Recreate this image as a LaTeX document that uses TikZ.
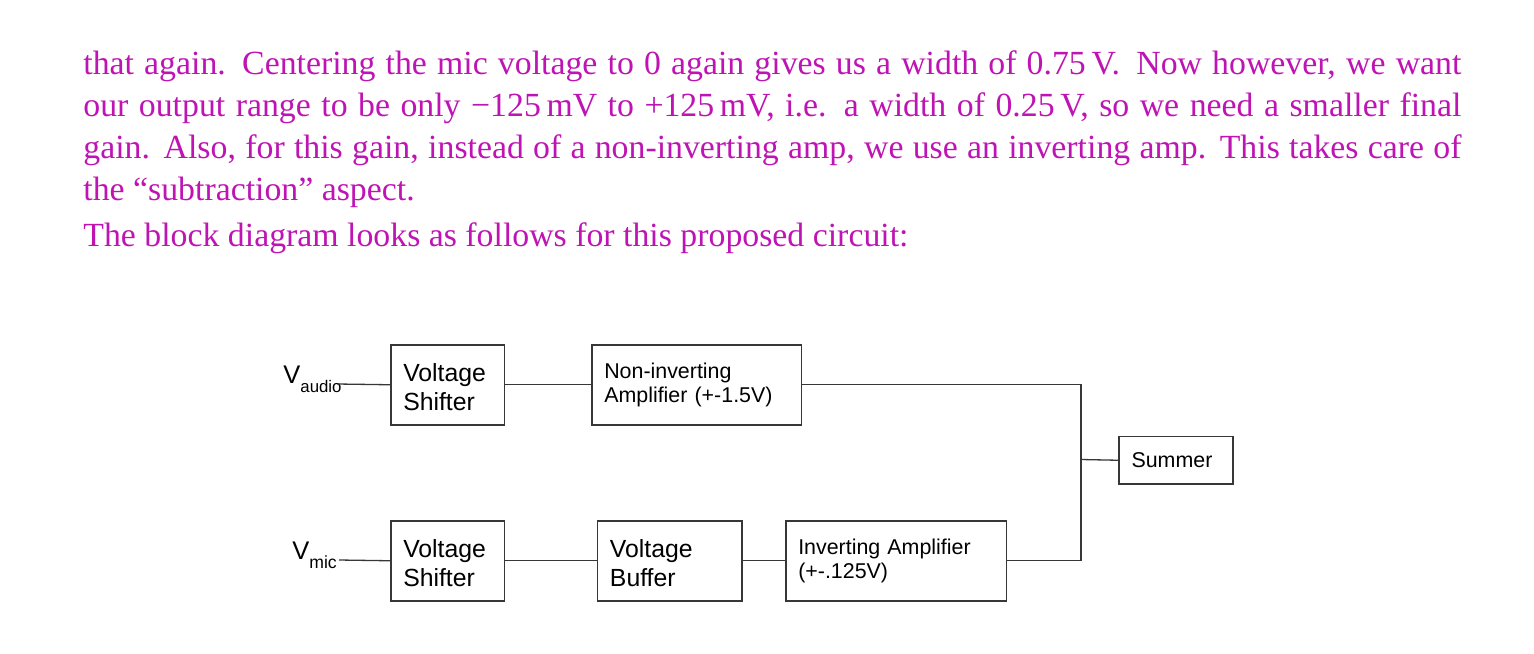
\documentclass[tikz,border=0pt]{standalone}
\usepackage{fontspec}
\setmainfont{Liberation Serif}
\newfontfamily\diagfont{Liberation Sans}
\definecolor{mag}{RGB}{190,20,180}
\definecolor{ln}{RGB}{55,55,55}
\begin{document}
\begin{tikzpicture}[x=0.5pt,y=-0.5pt,
  para/.style={anchor=base west, inner sep=0pt, text=mag, font=\fontsize{16.9}{21}\selectfont},
  blk/.style={draw=ln, line width=0.75pt, anchor=north west, inner xsep=6.25pt, inner ysep=0pt, align=left, text=black},
  bigtxt/.style={font=\diagfont\fontsize{12.4}{14.75}\selectfont, minimum height=40pt},
  smalltxt/.style={font=\diagfont\fontsize{10.7}{11.75}\selectfont, minimum height=40pt},
  wire/.style={draw=ln, line width=0.65pt},
  vlabel/.style={anchor=base west, inner sep=0pt, font=\diagfont, text=black},
]
\useasboundingbox (0,0) rectangle (1534,653);

% text paragraph
\node[para] (p1) at (83,74) {\makebox[689pt][s]{that again. Centering the mic voltage to 0 again gives us a width of 0.75\,V\@. Now however, we want}};
\node[para] (p2) at (83,116) {\makebox[689pt][s]{our output range to be only −125\,mV to +125\,mV, i.e. a width of 0.25\,V, so we need a smaller final}};
\node[para] (p3) at (83,158) {\makebox[689pt][s]{gain. Also, for this gain, instead of a non-inverting amp, we use an inverting amp. This takes care of}};
\node[para] (p4) at (83,200) {the “subtraction” aspect.};
\node[para] (p5) at (83,246) {The block diagram looks as follows for this proposed circuit:};

% blocks
\node[blk, bigtxt, text width=44.35pt] (vsA) at (390,344) {\rule{0pt}{11.5pt}Voltage\\Shifter};
\node[blk, smalltxt, text width=92.35pt] (ni) at (591,344) {Non-inverting\\Amplifier (+-1.5V)};
\node[blk, bigtxt, text width=44.35pt] (vsB) at (390,520) {\rule{0pt}{11.5pt}Voltage\\Shifter};
\node[blk, bigtxt, text width=59.65pt] (vb) at (596.7,520) {\rule{0pt}{11.5pt}Voltage\\Buffer};
\node[blk, smalltxt, text width=97.85pt] (inv) at (785,520) {Inverting Amplifier\\(+-.125V)};
\node[blk, font=\diagfont\fontsize{10.7}{11.75}\selectfont, minimum height=23.8pt, text width=44.5pt] (sum) at (1118.3,435.7) {Summer};

% input labels
\node[vlabel] (va) at (283,383) {\fontsize{12.75}{14}\selectfont V\raisebox{-4.5pt}{\fontsize{8.4}{10}\selectfont audio}};
\node[vlabel] (vm) at (292,559) {\fontsize{12.75}{14}\selectfont V\raisebox{-4.5pt}{\fontsize{8.8}{10}\selectfont mic}};
\coordinate (vaend) at (337,384);
\coordinate (vmend) at (339,560);
\coordinate (j) at (1081,459.5);

% connectors
\draw[wire] (vaend) -- (vsA.west);
\draw[wire] (vsA.east) -- (ni.west);
\draw[wire] (vmend) -- (vsB.west);
\draw[wire] (vsB.east) -- (vb.west);
\draw[wire] (vb.east) -- (inv.west);
\draw[wire] (ni.east) -| (j);
\draw[wire] (inv.east) -| (j);
\draw[wire] (j) -- (sum.west);
\end{tikzpicture}
\end{document}
